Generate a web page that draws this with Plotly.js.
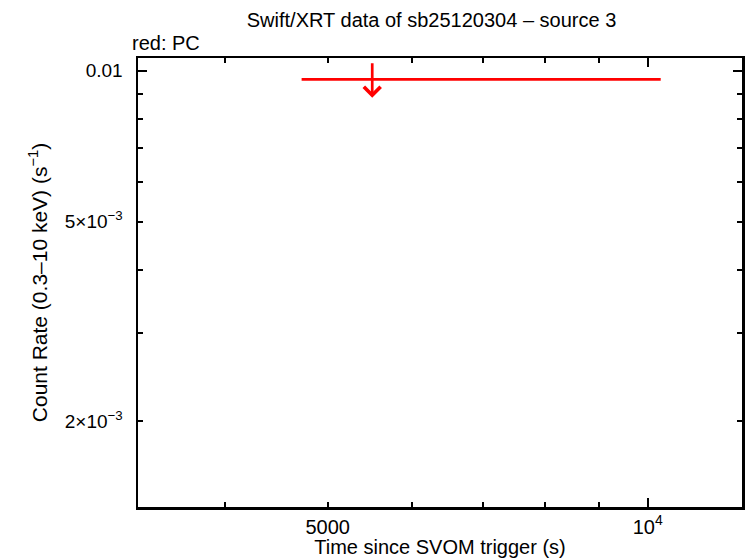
<!DOCTYPE html>
<html>
<head>
<meta charset="utf-8">
<script src="https://cdn.plot.ly/plotly-3.0.1.min.js"></script>
<style>
html,body{margin:0;padding:0;background:#fff;}
#chart{width:746px;height:558px;}
</style>
</head>
<body>
<div id="chart"></div>
<script>
// Upper limit (PC mode, red)
const binStart = [4726];
const binStop = [10286];
const binTime = [5507];
const upperLimit = [0.00961];
const arrowTop = [0.01042];
const arrowTip = [0.00883];

// Axis ranges and ticks
const xRange = [3316, 12266];
const yRange = [0.001349, 0.0106];
const xMinorTicks = [4000, 5000, 6000, 7000, 8000, 9000];
const xMinorLabels = ['', '5000', '', '', '', ''];
const xMajorTicks = [10000];
const xMajorLabels = ['10<sup>4</sup>'];
const yMinorTicks = [0.002, 0.003, 0.004, 0.005, 0.006, 0.007, 0.008, 0.009];
const yMinorLabels = ['2×10<sup>−3</sup>', '', '', '5×10<sup>−3</sup>', '', '', '', ''];
const yMajorTicks = [0.01];
const yMajorLabels = ['0.01'];

const FONT = 'Liberation Sans, Arial, Helvetica, sans-serif';
const RED = '#ff0000';
const lg = v => Math.log10(v);

const traces = [];
for (let i = 0; i < binStart.length; i++) {
  traces.push({
    type: 'scatter', mode: 'lines',
    x: [binStart[i], binStop[i]], y: [upperLimit[i], upperLimit[i]],
    line: {color: RED, width: 2.7},
    xaxis: 'x', yaxis: 'y', showlegend: false, hoverinfo: 'skip'
  });
}
// invisible helper trace so that the overlay axes are drawn
traces.push({type: 'scatter', mode: 'markers', x: [binTime[0]], y: [upperLimit[0]],
  marker: {opacity: 0}, xaxis: 'x2', yaxis: 'y2', showlegend: false, hoverinfo: 'skip'});

const annotations = binTime.map((t, i) => ({
  x: lg(t), y: lg(arrowTip[i]), ax: lg(t), ay: lg(arrowTop[i]),
  xref: 'x', yref: 'y', axref: 'x', ayref: 'y',
  showarrow: true, arrowhead: 4, arrowsize: 1.2, arrowwidth: 2.7, arrowcolor: RED,
  standoff: 0, startstandoff: 0, text: ''
}));
annotations.push({
  text: 'red: PC', xref: 'paper', yref: 'paper', x: 0, y: 1, xanchor: 'left', yanchor: 'bottom',
  xshift: -8, yshift: 2, showarrow: false, font: {family: FONT, size: 20, color: '#000'}
});

const baseAxis = {
  type: 'log', showgrid: false, zeroline: false, showline: true, linecolor: '#000', linewidth: 2.5,
  ticks: 'inside', tickcolor: '#000', tickwidth: 2, mirror: 'allticks', tickmode: 'array',
  tickfont: {family: FONT, size: 19, color: '#000'}, fixedrange: true
};

const layout = {
  width: 746, height: 558,
  margin: {l: 138, r: 4, t: 58, b: 51, pad: 0},
  paper_bgcolor: '#fff', plot_bgcolor: '#fff',
  showlegend: false,
  title: {text: 'Swift/XRT data of sb25120304 – source 3', x: 0.486, xref: 'paper', xanchor: 'center',
          y: 0.965, yanchor: 'middle', font: {family: FONT, size: 20, color: '#000'}},
  xaxis: Object.assign({}, baseAxis, {
    range: [lg(xRange[0]), lg(xRange[1])], tickvals: xMinorTicks, ticktext: xMinorLabels, ticklen: 5,
    tickfont: {family: FONT, size: 20, color: '#000'},
    title: {text: 'Time since SVOM trigger (s)', font: {family: FONT, size: 20, color: '#000'}, standoff: 0}
  }),
  xaxis2: Object.assign({}, baseAxis, {
    range: [lg(xRange[0]), lg(xRange[1])], tickvals: xMajorTicks, ticktext: xMajorLabels, ticklen: 9,
    tickfont: {family: FONT, size: 20, color: '#000'},
    overlaying: 'x', anchor: 'y2', side: 'bottom'
  }),
  yaxis: Object.assign({}, baseAxis, {
    range: [lg(yRange[0]), lg(yRange[1])], tickvals: yMinorTicks, ticktext: yMinorLabels, ticklen: 5,
    ticklabelstandoff: 9,
    title: {text: 'Count Rate (0.3–10 keV) (s<sup>−1</sup>)', font: {family: FONT, size: 21, color: '#000'}, standoff: 12}
  }),
  yaxis2: Object.assign({}, baseAxis, {
    range: [lg(yRange[0]), lg(yRange[1])], tickvals: yMajorTicks, ticktext: yMajorLabels, ticklen: 9,
    ticklabelstandoff: 9,
    overlaying: 'y', anchor: 'x2', side: 'left'
  }),
  annotations: annotations
};

Plotly.newPlot('chart', traces, layout, {displayModeBar: false, staticPlot: true});
</script>
</body>
</html>
